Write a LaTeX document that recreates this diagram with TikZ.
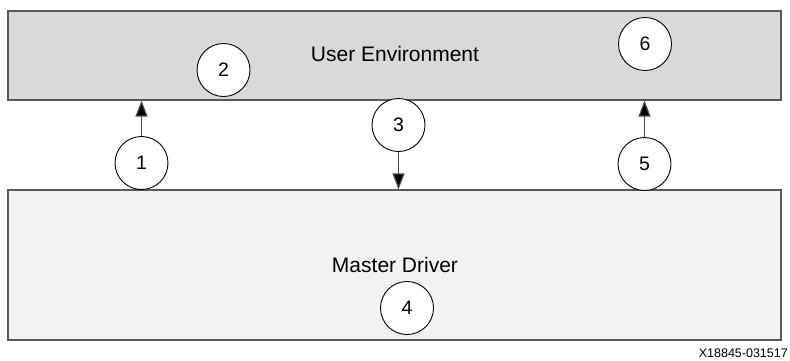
\documentclass[tikz,border=0pt]{standalone}
\usepackage{fontspec}
\setmainfont{Liberation Sans}
\usetikzlibrary{arrows.meta}
\begin{document}
\begin{tikzpicture}[x=1pt,y=-1pt,
  layerbox/.style={draw=black!65,line width=1.1pt,inner sep=0pt},
  stepcirc/.style={circle,draw=black,fill=white,line width=0.9pt,minimum size=53pt,inner sep=0pt,font=\fontsize{19.5}{22}\selectfont},
  flow/.style={draw=black!70,line width=1.2pt,-{Triangle[length=16pt,width=12pt,fill=black]}}
]
\useasboundingbox (0,0) rectangle (790,360);
\node[layerbox,fill=black!15,minimum width=773pt,minimum height=89pt] (user) at (394.5,55.5) {};
\node[font=\fontsize{21}{24}\selectfont] (usertxt) at (395,54) {User Environment};
\node[layerbox,fill=black!5,minimum width=773pt,minimum height=150pt] (master) at (394.5,265) {};
\node[font=\fontsize{21}{24}\selectfont] (mastertxt) at (395,264.5) {Master Driver};
\node[stepcirc] (c1) at (141.5,163) {1};
\node[stepcirc] (c2) at (223.5,70) {2};
\node[stepcirc] (c3) at (398.5,125) {3};
\node[stepcirc] (c4) at (407,308) {4};
\node[stepcirc] (c5) at (644.5,164) {5};
\node[stepcirc] (c6) at (645,44) {6};
\draw[flow] (c1.north) -- (c1.north |- user.south);
\draw[flow] (c3.south) -- (c3.south |- master.north);
\draw[flow] (c5.north) -- (c5.north |- user.south);
\node[anchor=east,font=\fontsize{12.5}{14}\selectfont,inner sep=0pt] (code) at (788,353) {X18845-031517};
\end{tikzpicture}
\end{document}
